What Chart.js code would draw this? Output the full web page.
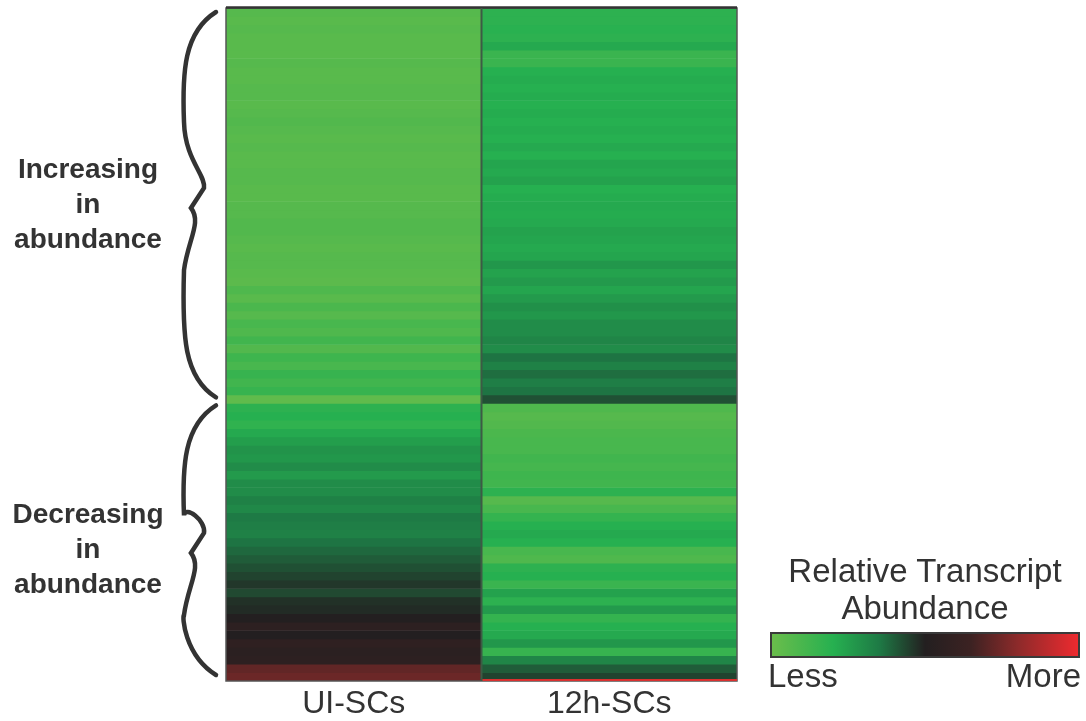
<!DOCTYPE html>
<html>
<head>
<meta charset="utf-8">
<script src="https://cdn.jsdelivr.net/npm/chart.js@4/dist/chart.umd.min.js"></script>
<style>
  body { margin: 0; background: #fff; font-family: "Liberation Sans", Arial, sans-serif; color: #333; }
  #wrap { position: relative; width: 1086px; height: 721px; }
  .side { position: absolute; left: 0; width: 176px; text-align: center; font-weight: bold; font-size: 28px; line-height: 35px; color: #333; }
  #legend { position: absolute; left: 765px; top: 552px; width: 320px; text-align: center; font-size: 33px; line-height: 37px; color: #333; }
  #bar { position: absolute; left: 770px; top: 632px; width: 306px; height: 22px; border: 2px solid #3a3a3a; }
  #less { position: absolute; left: 768px; top: 657px; font-size: 33px; }
  #more { position: absolute; right: 5px; top: 657px; font-size: 33px; }
</style>
</head>
<body>
<div id="wrap">
  <canvas id="heat" width="1086" height="721"></canvas>
  <div class="side" style="top:151px">Increasing<br>in<br>abundance</div>
  <div class="side" style="top:496px">Decreasing<br>in<br>abundance</div>
  <div id="legend">Relative Transcript<br>Abundance</div>
  <div id="bar"></div>
  <div id="less">Less</div>
  <div id="more">More</div>
</div>
<script>
// columns of the heatmap
const samples = ['UI-SCs', '12h-SCs'];

// relative abundance per gene row, 0 = less (green) ... 0.5 = black ... 1 = more (red)
// rows 0-46 increasing in abundance, rows 47-79 decreasing
const uiValues = [
  0.06, 0.05, 0.06, 0.05, 0.05, 0.05, 0.06, 0.05, 0.05, 0.06,
  0.06, 0.05, 0.06, 0.07, 0.06, 0.05, 0.06, 0.05, 0.05, 0.06,
  0.06, 0.05, 0.05, 0.06, 0.06, 0.07, 0.07, 0.06, 0.05, 0.06,
  0.06, 0.05, 0.04, 0.08, 0.05, 0.09, 0.06, 0.10, 0.08, 0.12,
  0.07, 0.13, 0.10, 0.15, 0.12, 0.15, 0.03,
  0.18, 0.20, 0.17, 0.22, 0.25, 0.28, 0.27, 0.30, 0.26, 0.30,
  0.30, 0.33, 0.31, 0.35, 0.34, 0.33, 0.36, 0.38, 0.40, 0.42,
  0.44, 0.46, 0.43, 0.47, 0.48, 0.50, 0.56, 0.50, 0.57, 0.55,
  0.56, 0.72, 0.74
];
const h12Values = [
  0.18, 0.18, 0.19, 0.18, 0.22, 0.14, 0.14, 0.20, 0.21, 0.20,
  0.21, 0.20, 0.21, 0.20, 0.21, 0.20, 0.22, 0.20, 0.23, 0.22,
  0.24, 0.20, 0.21, 0.22, 0.21, 0.22, 0.24, 0.23, 0.22, 0.23,
  0.27, 0.24, 0.26, 0.23, 0.26, 0.29, 0.27, 0.30, 0.30, 0.32,
  0.30, 0.36, 0.33, 0.37, 0.34, 0.36, 0.42,
  0.08, 0.06, 0.07, 0.09, 0.10, 0.10, 0.12, 0.11, 0.13, 0.12,
  0.18, 0.06, 0.10, 0.16, 0.20, 0.22, 0.20, 0.10, 0.08, 0.18,
  0.20, 0.14, 0.24, 0.18, 0.26, 0.16, 0.20, 0.22, 0.27, 0.15,
  0.32, 0.40, 0.44
];

// colour scale: position -> colour
const scaleStops = [
  [0.00, [106, 189, 75]],
  [0.20, [38, 176, 80]],
  [0.35, [30, 122, 69]],
  [0.50, [35, 31, 32]],
  [0.65, [60, 34, 34]],
  [0.80, [139, 42, 42]],
  [1.00, [237, 42, 47]]
];

function colorFor(v) {
  for (let i = 1; i < scaleStops.length; i++) {
    const [p1, c1] = scaleStops[i];
    const [p0, c0] = scaleStops[i - 1];
    if (v <= p1) {
      const t = (v - p0) / (p1 - p0);
      const c = c0.map((x, k) => Math.round(x + (c1[k] - x) * t));
      return `rgb(${c[0]}, ${c[1]}, ${c[2]})`;
    }
  }
  const c = scaleStops[scaleStops.length - 1][1];
  return `rgb(${c[0]}, ${c[1]}, ${c[2]})`;
}

document.getElementById('bar').style.background =
  'linear-gradient(to right, ' + scaleStops.map(s => `rgb(${s[1].join(',')}) ${s[0] * 100}%`).join(', ') + ')';

// one dataset per gene row, floating bars spanning [i, i+1]
const datasets = uiValues.map((v, i) => ({
  label: 'gene ' + (i + 1),
  data: [[i, i + 1], [i, i + 1]],
  backgroundColor: [colorFor(v), colorFor(h12Values[i])],
  borderWidth: 0,
  grouped: false,
  categoryPercentage: 1,
  barPercentage: 1
}));

// braces and frame
const decorations = {
  id: 'decorations',
  afterDatasetsDraw(chart) {
    const { ctx, chartArea: a, scales } = chart;
    ctx.save();
    ctx.strokeStyle = '#555';
    ctx.lineWidth = 1.5;
    ctx.strokeRect(a.left, a.top, a.right - a.left, a.bottom - a.top);
    ctx.strokeStyle = '#333';
    ctx.lineWidth = 2.5;
    ctx.beginPath();
    ctx.moveTo(a.left, a.top - 0.5);
    ctx.lineTo(a.right, a.top - 0.5);
    ctx.stroke();
    // thin red edge under the 12h column
    ctx.strokeStyle = '#d9302f';
    ctx.lineWidth = 2;
    const xm = (scales.x.getPixelForValue(0) + scales.x.getPixelForValue(1)) / 2;
    ctx.beginPath();
    ctx.moveTo(xm, a.bottom - 1);
    ctx.lineTo(a.right, a.bottom - 1);
    ctx.stroke();
    ctx.strokeStyle = '#3d5a45';
    ctx.lineWidth = 2;
    ctx.beginPath();
    ctx.moveTo(xm, a.top);
    ctx.lineTo(xm, a.bottom);
    ctx.stroke();

    const y = scales.y;
    function brace(top, bot, mid) {
      const xr = 216, xl = 186;
      ctx.beginPath();
      ctx.moveTo(xr, top);
      ctx.bezierCurveTo(xl - 2, top + 20, xl - 4, top + 60, xl - 2, top + 110);
      ctx.bezierCurveTo(xl - 1, mid - 40, xl + 20, mid - 25, xl + 18, mid - 12);
      ctx.lineTo(xl + 5, mid + 8);
      ctx.bezierCurveTo(xl + 16, mid + 22, xl + 2, mid + 40, xl - 2, mid + 70);
      ctx.bezierCurveTo(xl - 4, bot - 60, xl - 2, bot - 20, xr, bot);
      ctx.stroke();
    }
    ctx.strokeStyle = '#333';
    ctx.lineWidth = 4.5;
    ctx.lineCap = 'round';
    brace(y.getPixelForValue(0) + 4, y.getPixelForValue(47) - 6, 200);
    brace(y.getPixelForValue(47) + 2, y.getPixelForValue(80) - 6, 545);
    ctx.restore();
  }
};

const chart = new Chart(document.getElementById('heat'), {
  type: 'bar',
  data: { labels: samples, datasets: datasets },
  options: {
    responsive: false,
    animation: false,
    layout: { padding: { left: 226, right: 349, top: 8, bottom: 0 } },
    plugins: { legend: { display: false }, tooltip: { enabled: false } },
    scales: {
      x: {
        grid: { display: false, drawTicks: false },
        border: { display: false },
        ticks: { color: '#333', font: { family: 'Liberation Sans', size: 32, lineHeight: 1.1 }, padding: 6 },
        afterFit(scale) { scale.height = 40; }
      },
      y: { display: false, reverse: true, min: 0, max: uiValues.length }
    }
  },
  plugins: [decorations]
});
</script>
</body>
</html>
